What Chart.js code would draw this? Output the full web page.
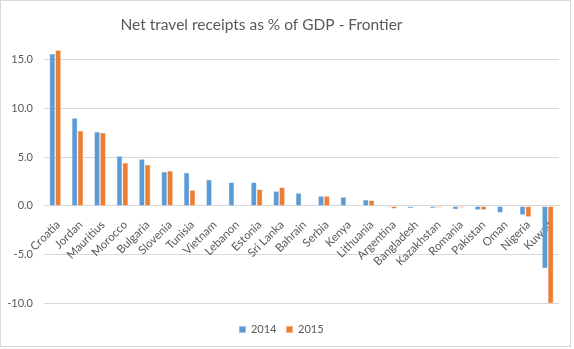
<!DOCTYPE html>
<html>
<head>
<meta charset="utf-8">
<script src="https://cdn.jsdelivr.net/npm/chart.js@4/dist/chart.umd.min.js"></script>
<style>
  html, body { margin: 0; padding: 0; background: #ffffff; }
  #frame {
    position: absolute; left: 0; top: 0;
    width: 569px; height: 345px;
    border: 1px solid #d9d9d9;
    background: #ffffff;
  }
  #wrap { position: absolute; left: 0; top: 0; width: 571px; height: 347px; }
</style>
</head>
<body>
<div id="frame"></div>
<div id="wrap"><canvas id="chart" width="571" height="347"></canvas></div>
<script>
// Net travel receipts (% of GDP), frontier markets
const countries = ['Croatia', 'Jordan', 'Mauritius', 'Morocco', 'Bulgaria', 'Slovenia', 'Tunisia',
  'Vietnam', 'Lebanon', 'Estonia', 'Sri Lanka', 'Bahrain', 'Serbia', 'Kenya', 'Lithuania',
  'Argentina', 'Bangladesh', 'Kazakhstan', 'Romania', 'Pakistan', 'Oman', 'Nigeria', 'Kuwait'];

const receipts2014 = [15.6, 9.0, 7.6, 5.1, 4.8, 3.5, 3.4, 2.7, 2.4, 2.4, 1.5, 1.3, 1.0, 0.9, 0.6,
  -0.1, -0.2, -0.2, -0.35, -0.4, -0.68, -0.9, -6.4];
const receipts2015 = [16.0, 7.7, 7.5, 4.4, 4.2, 3.6, 1.6, null, null, 1.7, 1.9, null, 1.0, null, 0.55,
  -0.27, null, -0.17, -0.17, -0.4, null, -1.1, -10.0];

const seriesNames = ['2014', '2015'];
const yTicks = [-10, -5, 0, 5, 10, 15];

const textColor = '#595959';
const gridColor = '#d9d9d9';
const fontFamily = 'Lato, "Open Sans", sans-serif';

// The title sits a little left of the canvas centre
const titleShift = {
  id: 'titleShift',
  afterLayout(chart) {
    const t = chart.titleBlock;
    if (t) { t.left -= 20; t.right -= 20; }
  }
};

new Chart(document.getElementById('chart'), {
  type: 'bar',
  data: {
    labels: countries,
    datasets: [
      {
        label: seriesNames[0],
        data: receipts2014,
        backgroundColor: '#5b9bd5',
        borderColor: '#7fb1e0',
        borderWidth: 0.5,
        categoryPercentage: 0.52,
        barPercentage: 0.92
      },
      {
        label: seriesNames[1],
        data: receipts2015,
        backgroundColor: '#ed7d31',
        borderColor: '#f19a5f',
        borderWidth: 0.5,
        categoryPercentage: 0.52,
        barPercentage: 0.92
      }
    ]
  },
  plugins: [titleShift],
  options: {
    responsive: false,
    animation: false,
    layout: { padding: { left: 4, right: 12, top: 0, bottom: 2 } },
    plugins: {
      title: {
        display: true,
        text: 'Net travel receipts as % of GDP - Frontier',
        color: textColor,
        font: { family: fontFamily, size: 15.5, weight: 'normal' },
        padding: { top: 15.5, bottom: 1.5 }
      },
      legend: {
        position: 'bottom',
        labels: {
          color: textColor,
          font: { family: fontFamily, size: 11 },
          boxWidth: 6,
          boxHeight: 6,
          padding: 10
        }
      },
      tooltip: { enabled: false }
    },
    scales: {
      x: {
        position: { y: 0 },
        grid: { display: false },
        border: { display: true, color: gridColor },
        afterFit: (scale) => { scale.paddingLeft = 0; scale.paddingRight = 0; },
        ticks: {
          color: textColor,
          font: { family: fontFamily, size: 11.5 },
          minRotation: 45,
          maxRotation: 45,
          autoSkip: false,
          padding: 4,
          labelOffset: 3
        }
      },
      y: {
        min: -11.1,
        max: 17.5,
        grid: { color: gridColor, drawTicks: false },
        border: { display: false },
        afterBuildTicks: (scale) => {
          scale.ticks = yTicks.map(v => ({ value: v }));
        },
        afterFit: (scale) => { scale.width = 40; },
        ticks: {
          color: textColor,
          font: { family: fontFamily, size: 11 },
          padding: 11,
          callback: (v) => Number(v).toFixed(1)
        }
      }
    }
  }
});
</script>
</body>
</html>
